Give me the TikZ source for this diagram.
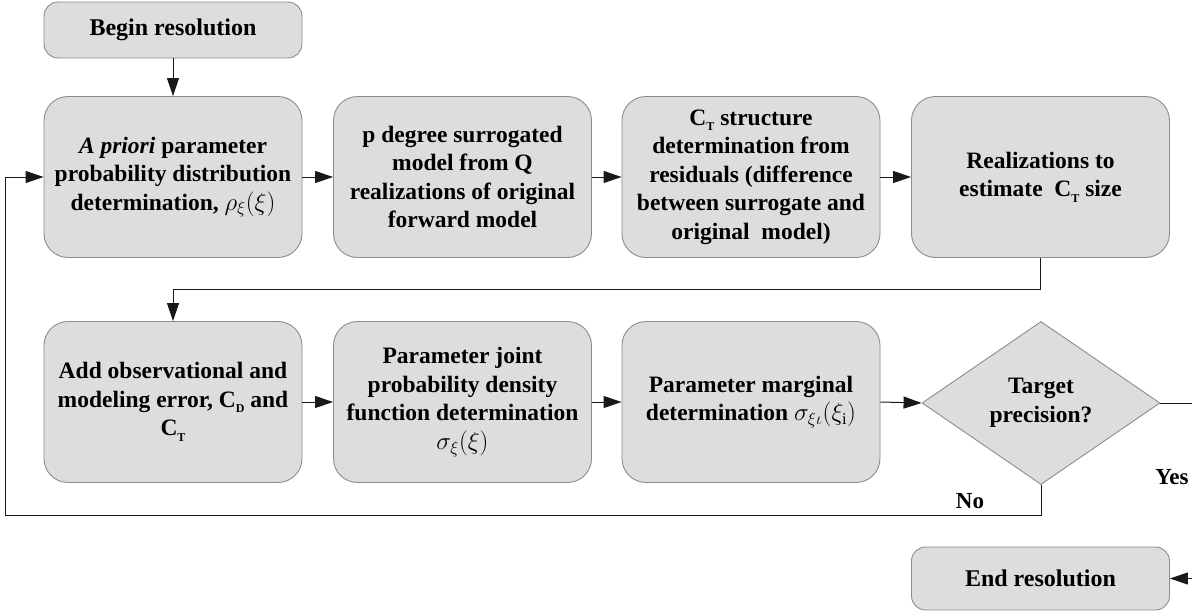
\documentclass[tikz,border=0pt]{standalone}
\usepackage{fontspec}
\setmainfont{Liberation Serif}
\usetikzlibrary{shapes.geometric,arrows.meta}
\newcommand{\CT}{C\raisebox{-0.5ex}{\fontsize{12}{12}\selectfont T}}
\newcommand{\CD}{C\raisebox{-0.5ex}{\fontsize{12}{12}\selectfont D}}
\definecolor{boxfill}{RGB}{221,221,221}
\definecolor{boxline}{RGB}{140,140,140}
\begin{document}
\begin{tikzpicture}[x=1pt,y=-1pt,
  stepbox/.style={draw=boxline, fill=boxfill, line width=0.9pt, rounded corners=24pt,
    minimum width=258pt, minimum height=161pt, align=center, inner sep=0pt,
    font=\bfseries\fontsize{23.5}{28.5}\selectfont},
  termbox/.style={stepbox, rounded corners=14pt, font=\bfseries\fontsize{24}{28}\selectfont},
  decbox/.style={draw=boxline, fill=boxfill, line width=0.9pt, diamond, aspect=1.46,
    minimum width=238pt, minimum height=163pt, inner sep=0pt, align=center,
    font=\bfseries\fontsize{23.5}{28.5}\selectfont},
  conn/.style={draw=black!90, line width=1pt},
  arr/.style={conn, -{Triangle[length=18pt,width=12pt]}},
  lbl/.style={font=\bfseries\fontsize{23}{26}\selectfont, inner sep=0pt}]
\useasboundingbox (0,0) rectangle (1192,616);

\node[termbox, minimum height=56pt] (begin) at (173,30) {Begin resolution};
\node[stepbox] (b1) at (173,177) {\textit{A priori} parameter\\probability distribution\\determination, $\rho_{\xi}(\xi)$};
\node[stepbox] (b2) at (462.5,177) {p degree surrogated\\model from Q\\realizations of original\\forward model};
\node[stepbox] (b3) at (751,177) {\CT{} structure\\determination from\\residuals (difference\\between surrogate and\\original~ model)};
\node[stepbox] (b4) at (1040.5,177) {Realizations to\\estimate~ \CT{} size};

\node[stepbox] (b5) at (173,402) {Add observational and\\modeling error, \CD{} and\\\CT};
\node[stepbox] (b6) at (462.5,402) {Parameter joint\\probability density\\function determination\\$\sigma_{\xi}(\xi)$};
\node[stepbox] (b7) at (751,402) {Parameter marginal\\determination $\sigma_{\xi\iota}(\xi_{\mathrm{i}})$};
\node[decbox] (dia) at (1041,403) {Target\\precision?};

\node[termbox, minimum height=63pt] (end) at (1040.5,578.5) {End resolution};

\node[lbl] (no) at (970,501) {No};
\node[lbl] (yes) at (1172,477) {Yes};

\coordinate (fbL) at (5,515);
\coordinate (yesR) at (1196,403);

\draw[arr] (begin.south) -- (b1.north);
\draw[arr] (b1.east) -- (b2.west);
\draw[arr] (b2.east) -- (b3.west);
\draw[arr] (b3.east) -- (b4.west);
\draw[arr] (b4.south) -- ++(0,32) -| (b5.north);
\draw[arr] (b5.east) -- (b6.west);
\draw[arr] (b6.east) -- (b7.west);
\draw[arr] (b7.east) -- (dia.west);
\draw[arr] (dia.south) |- (fbL) |- (b1.west);
\draw[arr] (dia.east) -- (yesR) |- (end.east);
\end{tikzpicture}
\end{document}
